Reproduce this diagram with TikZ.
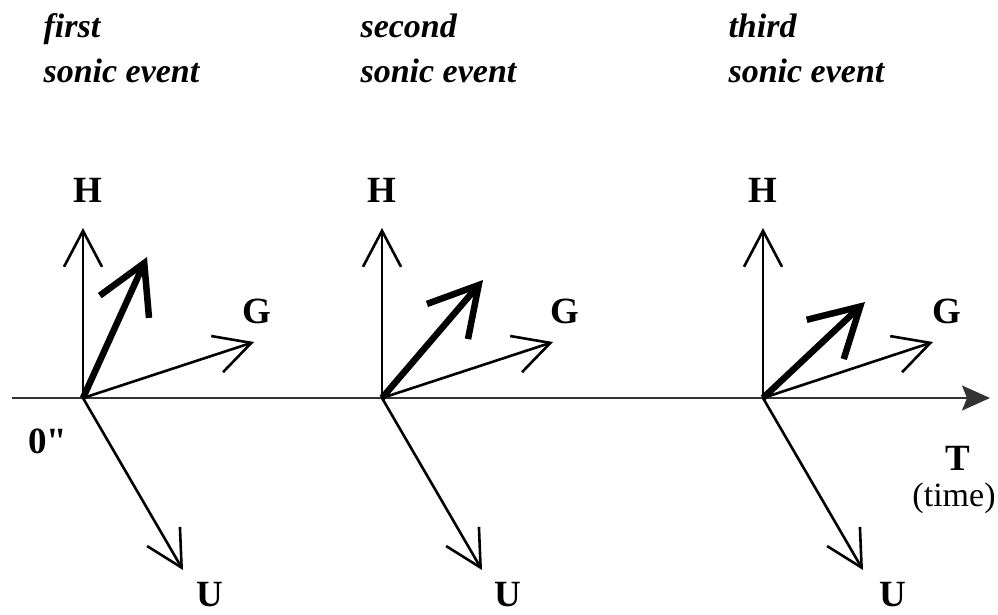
\documentclass[tikz,border=0pt]{standalone}
\usepackage{fontspec}
\setmainfont{Liberation Serif}
\newfontfamily\labfont{Liberation Serif}
\usetikzlibrary{arrows.meta}

\begin{document}
\begin{tikzpicture}[
  x=1pt, y=-1pt,
  vec/.style={line width=2.6pt, -{Straight Barb[length=36pt, width=38pt]}},
  push/.style={line width=6.5pt, -{Straight Barb[length=48pt, width=54pt]}},
  lab/.style={font=\labfont\fontsize{37}{44}\selectfont\bfseries},
  title/.style={font=\fontsize{34}{40}\selectfont\bfseries\itshape, anchor=base west}
]
  \useasboundingbox (0,0) rectangle (998,614);

  % titles
  \node[title] (first)   at (40,37)  {first};
  \node[title] (sonic1)  at (40,82)  {sonic event};
  \node[title] (second)  at (357,37) {second};
  \node[title] (sonic2)  at (357,82) {sonic event};
  \node[title] (third)   at (725,37) {third};
  \node[title] (sonic3)  at (725,82) {sonic event};

  % time axis
  \coordinate (tstart) at (12,398);
  \coordinate (tend)   at (990,398);
  \draw[line width=2pt, black!80, -{Stealth[length=28pt, width=25pt, inset=5pt]}] (tstart) -- (tend);
  \node[lab] (zero) at (48,441) {0"};
  \node[lab] (T) at (958,458) {T};
  \node[font=\fontsize{34}{40}\selectfont] (time) at (954,498) {(time)};

  % first event
  \coordinate (o1) at (83,398);
  \coordinate (h1) at (83,228);
  \coordinate (g1) at (254,342);
  \coordinate (u1) at (183,570);
  \coordinate (p1) at (147,257);
  \draw[vec] (o1) -- (h1);
  \draw[vec] (o1) -- (g1);
  \draw[vec] (o1) -- (u1);
  \draw[push] (o1) -- (p1);
  \node[lab] (H1) at (88,190)  {H};
  \node[lab] (G1) at (257,311) {G};
  \node[lab] (U1) at (210,595) {U};

  % second event
  \coordinate (o2) at (382,398);
  \coordinate (h2) at (382,228);
  \coordinate (g2) at (553,342);
  \coordinate (u2) at (482,570);
  \coordinate (p2) at (483,280);
  \draw[vec] (o2) -- (h2);
  \draw[vec] (o2) -- (g2);
  \draw[vec] (o2) -- (u2);
  \draw[push] (o2) -- (p2);
  \node[lab] (H2) at (382,190) {H};
  \node[lab] (G2) at (565,311) {G};
  \node[lab] (U2) at (508,595) {U};

  % third event
  \coordinate (o3) at (763,398);
  \coordinate (h3) at (763,228);
  \coordinate (g3) at (933,342);
  \coordinate (u3) at (863,570);
  \coordinate (p3) at (865,302);
  \draw[vec] (o3) -- (h3);
  \draw[vec] (o3) -- (g3);
  \draw[vec] (o3) -- (u3);
  \draw[push] (o3) -- (p3);
  \node[lab] (H3) at (763,190) {H};
  \node[lab] (G3) at (947,311) {G};
  \node[lab] (U3) at (893,595) {U};
\end{tikzpicture}
\end{document}
